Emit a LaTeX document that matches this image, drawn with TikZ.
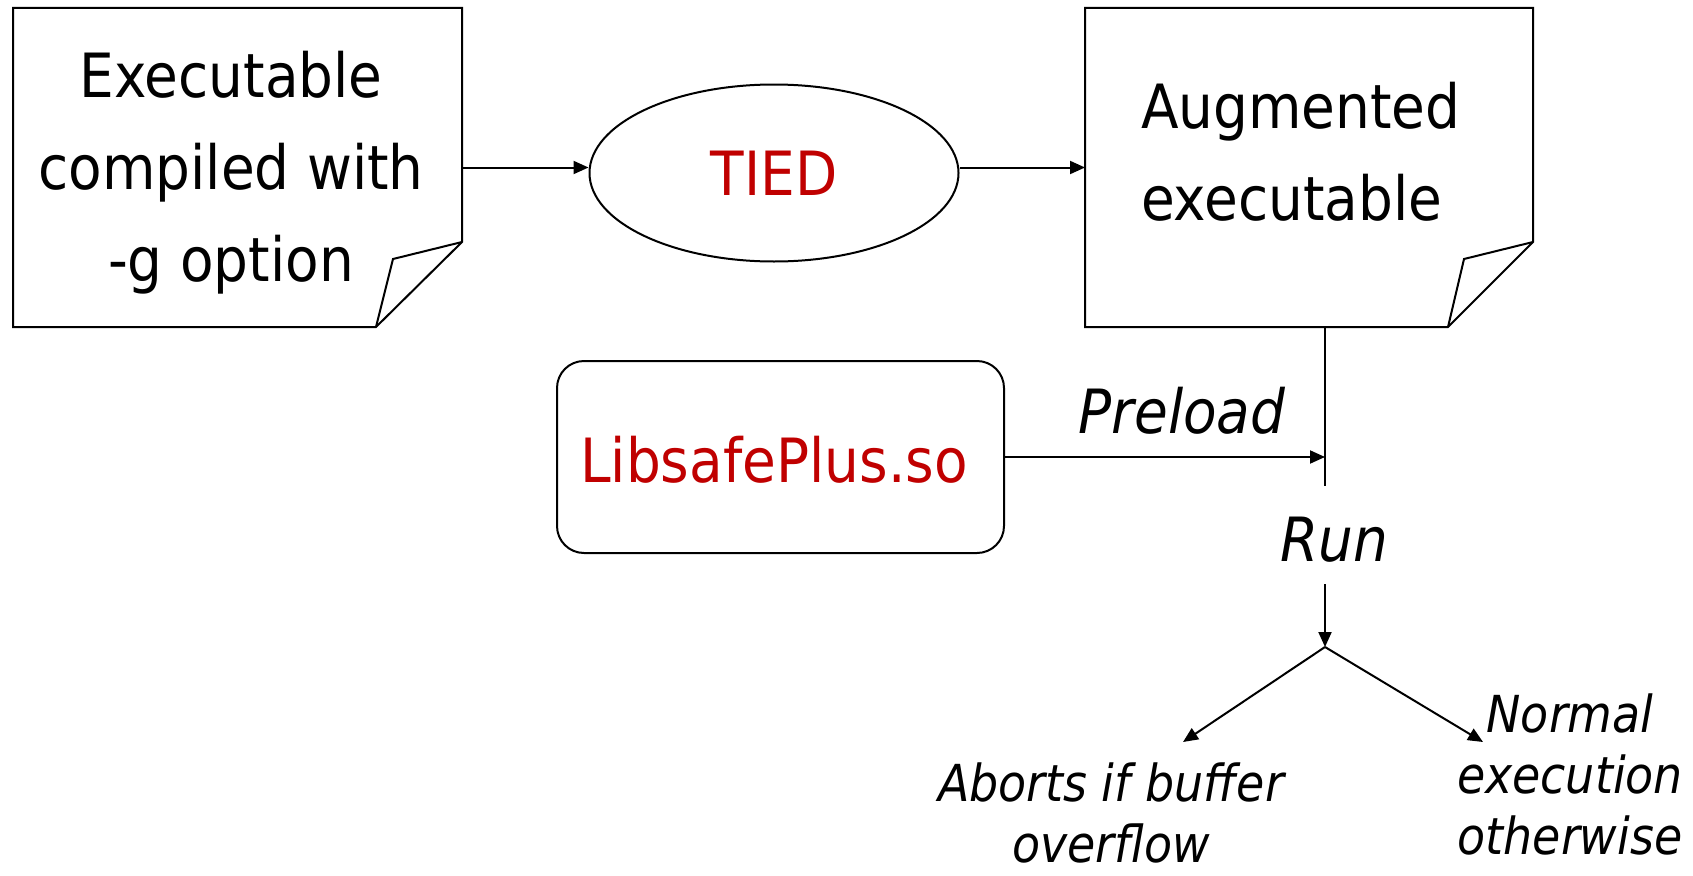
\documentclass[tikz,border=0pt]{standalone}
\usepackage{fontspec}
\setmainfont{DejaVu Sans}[FakeStretch=0.9]
\usetikzlibrary{arrows.meta,shapes.geometric}
\definecolor{toolred}{RGB}{192,0,0}
\begin{document}
\begin{tikzpicture}[x=1pt,y=-1pt,
  line width=2pt,
  shapebox/.style={inner sep=0pt, outer sep=0pt},
  big/.style={font=\fontsize{61}{92}\selectfont, inner sep=0pt},
  bigit/.style={font=\fontsize{61}{92}\selectfont\itshape, inner sep=0pt},
  small/.style={font=\fontsize{51}{61}\selectfont\itshape, inner sep=0pt},
  flow/.style={-{Triangle[width=13pt,length=15pt]}},
]
\useasboundingbox (0,0) rectangle (1693,875);
\fill[white] (0,0) rectangle (1693,875);

% input executable (document with folded corner)
\node[shapebox, minimum width=449pt, minimum height=319pt] (src) at (237.5,167.5) {};
\draw (src.north west) -- (src.north east) -- ([yshift=85pt]src.south east) coordinate (srcA)
  -- ([xshift=-86pt]src.south east) coordinate (srcB) -- (src.south west) -- cycle;
\draw (srcA) -- ([xshift=-69pt,yshift=68pt]src.south east) -- (srcB);
\node[big, align=center] (srctext) at (231,172.5) {Executable\\compiled with\\-g option};

% TIED tool
\node[draw, ellipse, minimum width=369pt, minimum height=177pt, big, text=toolred] (tied) at (774,173) {TIED};

% augmented executable (document with folded corner)
\node[shapebox, minimum width=448pt, minimum height=319pt] (dst) at (1309,167.5) {};
\draw (dst.north west) -- (dst.north east) -- ([yshift=85pt]dst.south east) coordinate (dstA)
  -- ([xshift=-85pt]dst.south east) coordinate (dstB) -- (dst.south west) -- cycle;
\draw (dstA) -- ([xshift=-69pt,yshift=68pt]dst.south east) -- (dstB);
\node[big, align=left, anchor=west] (dsttext) at (1140,151.5) {Augmented\\executable};

\draw[flow] (src.east) -- (src.east -| tied.west);
\draw[flow] (tied.east |- dst.west) -- (dst.west);

% preloaded library
\node[draw, shapebox, rounded corners=27pt, minimum width=447pt, minimum height=192pt] (lib) at (780.5,457) {};
\node[big, text=toolred, anchor=base] (libtext) at (774,482) {LibsafePlus.so};

\coordinate (tap) at (1325,457);
\coordinate (stemend) at (1325,486);
\draw (dst.south -| tap) -- (stemend);
\draw[flow] (lib.east) -- (tap);
\node[bigit, anchor=base] (preload) at (1182,433) {Preload};

% run and its two outcomes
\node[bigit, anchor=base] (run) at (1334,561) {Run};
\coordinate (runout) at (1325,584);
\coordinate (split) at (1325,647);
\coordinate (abortpt) at (1183,742);
\coordinate (normalpt) at (1483,742);
\draw[flow] (runout) -- (split);
\draw[flow] (split) -- (abortpt);
\draw[flow] (split) -- (normalpt);

\node[small, align=center] (abort) at (1111,813) {Aborts if buffer\\overflow};
\node[small, align=center] (normal) at (1570,774) {Normal\\execution\\otherwise};
\end{tikzpicture}
\end{document}
